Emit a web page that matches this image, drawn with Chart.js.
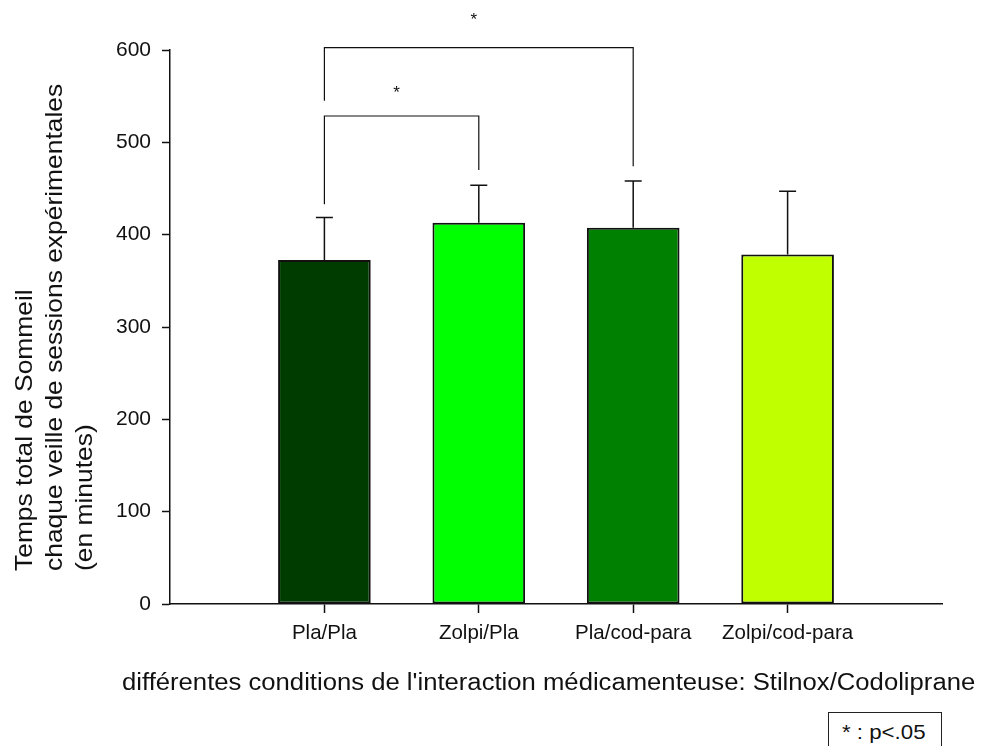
<!DOCTYPE html>
<html>
<head>
<meta charset="utf-8">
<script src="https://cdn.jsdelivr.net/npm/chart.js@4.4.0/dist/chart.umd.min.js"></script>
<style>
  html, body { margin: 0; padding: 0; background: #ffffff; }
  #wrap { position: relative; width: 992px; height: 746px; overflow: hidden; }
  #legendBox {
    position: absolute; left: 828px; top: 712px; width: 114px; height: 40px;
    border: 1px solid #222; box-sizing: border-box; background: #fff;
    font-family: "Liberation Sans", Arial, sans-serif; font-size: 21px; color: #111;
    padding: 7px 0 0 13px; white-space: nowrap;
  }
  #legendBox span { display: inline-block; transform: scaleX(1.06); transform-origin: left center; }
</style>
</head>
<body>
<div id="wrap">
  <canvas id="c" width="992" height="746"></canvas>
  <div id="legendBox"><span>* : p&lt;.05</span></div>
</div>
<script>
// ---- data ----
const categories = ['', 'Pla/Pla', 'Zolpi/Pla', 'Pla/cod-para', 'Zolpi/cod-para', ''];
const meanValues = [null, 372.5, 413, 407.5, 378.5, null];
const errorTops  = [null, 418.5, 453.5, 458, 447, null];
const barColors  = ['#000000', '#003c00', '#00ff00', '#008000', '#c0ff00', '#000000'];
const yTickValues = [0, 100, 200, 300, 400, 500, 600];
// significance brackets: category indices, bar-level (y value), leg ends (y values)
const bracketFrom   = [1, 1];
const bracketTo     = [2, 3];
const bracketLevel  = [528.5, 602.5];
const bracketLeftEnd  = [433, 545];
const bracketRightEnd = [470, 474];
const bracketStarY  = [558, 637];
const starLabel = '*';
const yTitleLines = ['Temps total de Sommeil', 'chaque veille de sessions expérimentales', '(en minutes)'];
const xTitle = "différentes conditions de l'interaction médicamenteuse: Stilnox/Codoliprane";

const FONT = '"Liberation Sans", Arial, Helvetica, sans-serif';

const annotations = {
  id: 'annotations',
  afterDatasetsDraw(chart) {
    const ctx = chart.ctx;
    const xs = chart.scales.x, ys = chart.scales.y;
    ctx.save();
    ctx.strokeStyle = '#111';
    ctx.lineWidth = 1.5;
    // error bars (upper only)
    for (let i = 0; i < meanValues.length; i++) {
      if (meanValues[i] == null) continue;
      const x = xs.getPixelForValue(i);
      const y0 = ys.getPixelForValue(meanValues[i]);
      const y1 = ys.getPixelForValue(errorTops[i]);
      ctx.beginPath();
      ctx.moveTo(x, y0); ctx.lineTo(x, y1);
      ctx.moveTo(x - 8.5, y1); ctx.lineTo(x + 8.5, y1);
      ctx.stroke();
    }
    // brackets
    ctx.lineWidth = 1.2;
    for (let k = 0; k < bracketFrom.length; k++) {
      const xa = xs.getPixelForValue(bracketFrom[k]);
      const xb = xs.getPixelForValue(bracketTo[k]);
      const yl = ys.getPixelForValue(bracketLevel[k]);
      const ya = ys.getPixelForValue(bracketLeftEnd[k]);
      const yb = ys.getPixelForValue(bracketRightEnd[k]);
      ctx.beginPath();
      ctx.moveTo(xa, ya); ctx.lineTo(xa, yl); ctx.lineTo(xb, yl); ctx.lineTo(xb, yb);
      ctx.stroke();
      const ys2 = ys.getPixelForValue(bracketStarY[k]);
      ctx.fillStyle = '#111';
      ctx.font = '17px ' + FONT;
      ctx.textAlign = 'center';
      ctx.textBaseline = 'alphabetic';
      ctx.fillText(starLabel, (xa + xb) / 2 - 5, ys2 + 9);
    }
    ctx.restore();
  },
  afterDraw(chart) {
    const ctx = chart.ctx;
    ctx.save();
    ctx.fillStyle = '#111';
    ctx.font = '24px ' + FONT;
    ctx.textBaseline = 'alphabetic';
    ctx.textAlign = 'left';
    // y title lines (rotated, left aligned)
    const baseX = [31.5, 61.5, 91.5];
    for (let i = 0; i < yTitleLines.length; i++) {
      ctx.save();
      ctx.translate(baseX[i], 571);
      ctx.rotate(-Math.PI / 2);
      ctx.scale(1.1, 1);
      ctx.fillText(yTitleLines[i], 0, 0);
      ctx.restore();
    }
    // x title
    ctx.save();
    ctx.font = '23.5px ' + FONT;
    ctx.translate(122, 690);
    ctx.scale(1.092, 1);
    ctx.fillText(xTitle, 0, 0);
    ctx.restore();
    ctx.restore();
  }
};

new Chart(document.getElementById('c'), {
  type: 'bar',
  data: {
    labels: categories,
    datasets: [{
      data: meanValues,
      backgroundColor: barColors,
      borderColor: '#111',
      borderWidth: 2,
      borderSkipped: false,
      categoryPercentage: 1.0,
      barPercentage: 0.6
    }]
  },
  options: {
    responsive: false,
    animation: false,
    events: [],
    layout: { padding: { left: 0, right: 50, top: 50, bottom: 0 } },
    plugins: { legend: { display: false }, tooltip: { enabled: false } },
    scales: {
      x: {
        type: 'category',
        offset: false,
        grid: {
          offset: false,
          drawOnChartArea: false,
          drawTicks: true,
          tickLength: 9,
          tickWidth: 1.5,
          tickColor: (c) => (categories[c.index] ? '#111' : 'rgba(0,0,0,0)')
        },
        border: { display: true, color: '#111', width: 1.5 },
        ticks: {
          color: '#111',
          font: { family: FONT, size: 20.5 },
          padding: 8,
          autoSkip: false,
          maxRotation: 0
        },
        afterFit: (s) => { s.height = 142; }
      },
      y: {
        min: 0,
        max: 600,
        grid: {
          drawOnChartArea: false,
          drawTicks: true,
          tickLength: 8,
          tickWidth: 1.5,
          tickColor: '#111'
        },
        border: { display: true, color: '#111', width: 1.5 },
        ticks: {
          color: '#111',
          font: { family: FONT, size: 21 },
          padding: 11
        },
        afterBuildTicks: (s) => { s.ticks = yTickValues.map(v => ({ value: v })); },
        afterFit: (s) => { s.width = 170; }
      }
    }
  },
  plugins: [annotations]
});
</script>
</body>
</html>
